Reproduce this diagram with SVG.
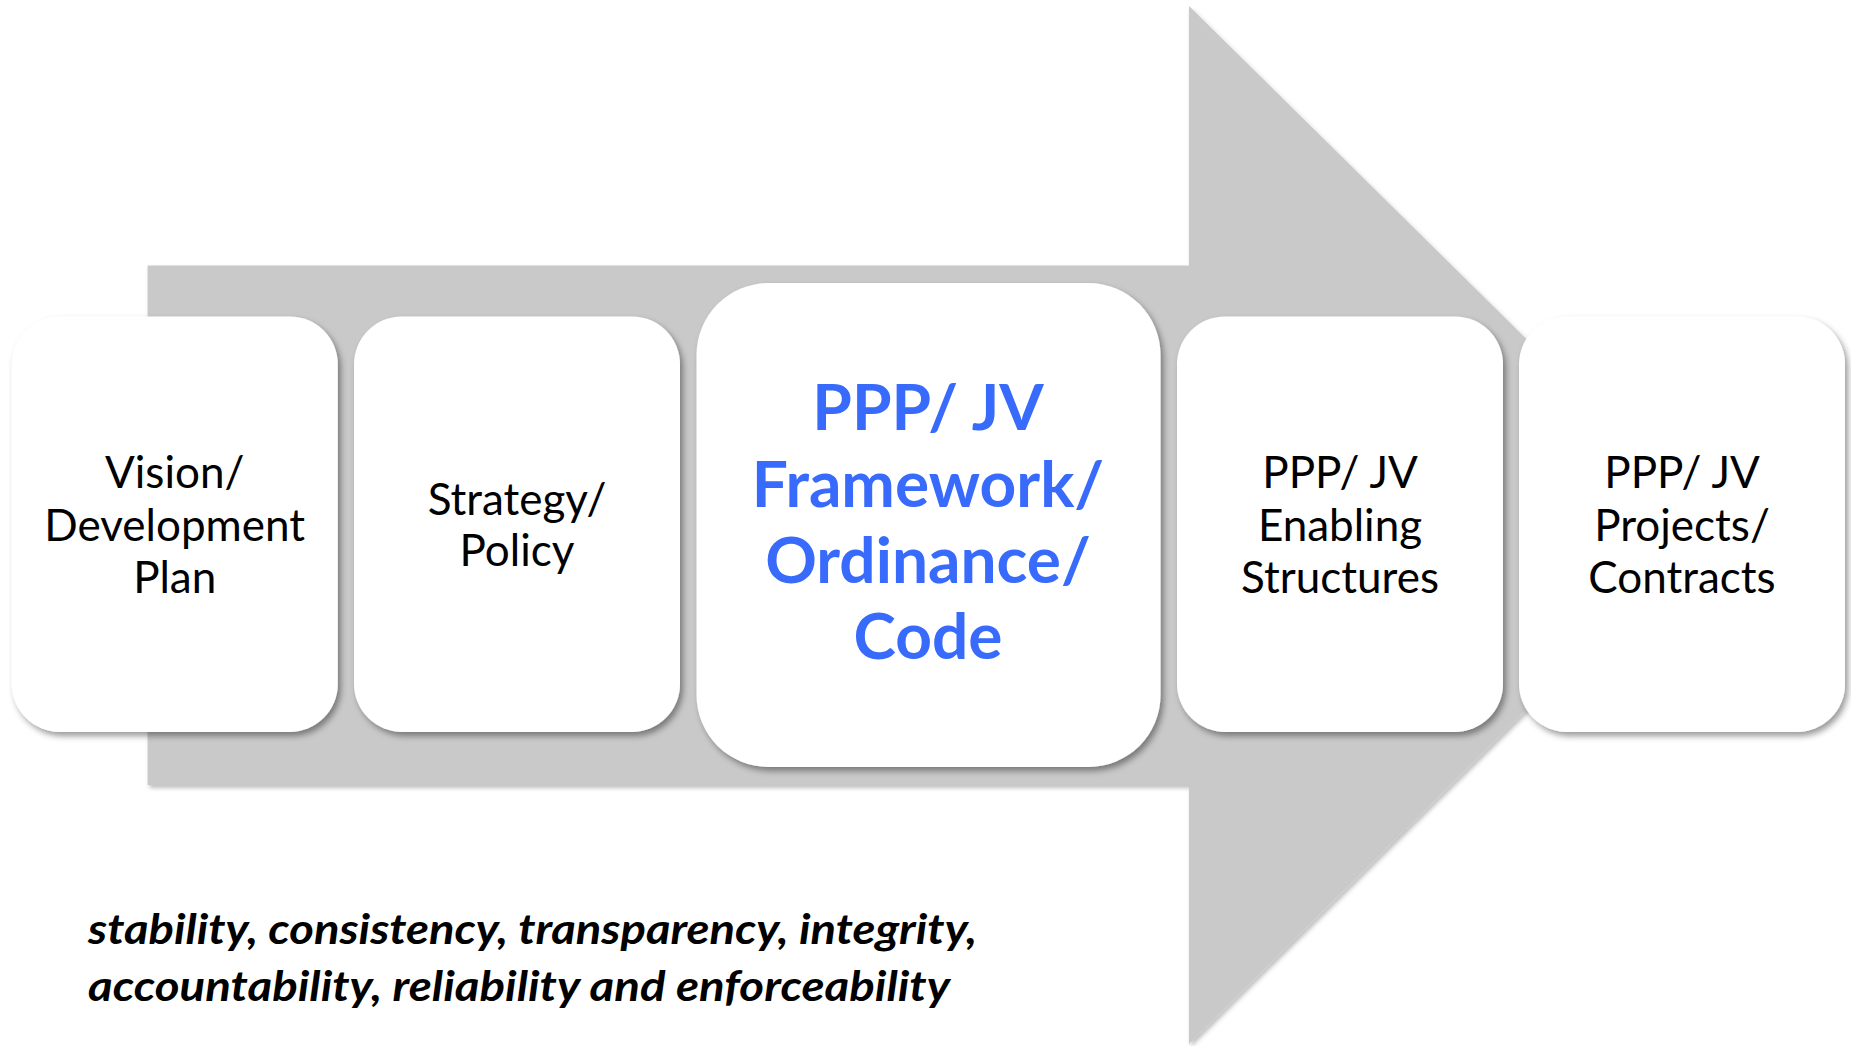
<svg xmlns="http://www.w3.org/2000/svg" width="1851" height="1046" viewBox="0 0 1851 1046">
<defs>
<filter id="sh" x="-10%" y="-10%" width="120%" height="120%">
<feDropShadow dx="3" dy="4" stdDeviation="3" flood-color="#000" flood-opacity="0.4"/>
</filter>
<filter id="ash" x="-5%" y="-5%" width="110%" height="110%">
<feDropShadow dx="2" dy="3" stdDeviation="2" flood-color="#000" flood-opacity="0.25"/>
</filter>
<style>
.box{fill:#fff;filter:url(#sh);}
.t{font-family:Lato,"Open Sans","Liberation Sans",sans-serif;font-size:44px;fill:#000;text-anchor:middle;}
.tb{font-family:Lato,"Open Sans","Liberation Sans",sans-serif;font-size:64px;font-weight:bold;fill:#386BFB;text-anchor:middle;}
.bi{font-family:Lato,"Open Sans","Liberation Sans",sans-serif;font-size:42px;font-weight:bold;font-style:italic;fill:#000;}
</style>
</defs>
<rect width="1851" height="1046" fill="#fff"/>
<g id="arrow">
<path d="M147.6,265.6 H1189 V6 L1714,524 L1189,1044 V785 H147.6 Z" fill="#C9C9C9" filter="url(#ash)"/>
</g>
<g id="node1">
<rect class="box" x="11.8" y="316.4" width="326" height="415.5" rx="48"/>
<text class="t" x="174.7" y="488">Vision/</text>
<text class="t" x="174.7" y="541">Development</text>
<text class="t" x="174.7" y="593">Plan</text>
</g>
<g id="node2">
<rect class="box" x="354" y="316.4" width="326" height="415.5" rx="48"/>
<text class="t" x="517" y="515">Strategy/</text>
<text class="t" x="517" y="566">Policy</text>
</g>
<g id="node3">
<rect class="box" x="696.5" y="283" width="464" height="484" rx="72"/>
<text class="tb" x="928" y="430">PPP/ JV</text>
<text class="tb" x="928" y="507">Framework/</text>
<text class="tb" x="928" y="583">Ordinance/</text>
<text class="tb" x="928" y="659">Code</text>
</g>
<g id="node4">
<rect class="box" x="1177" y="316.4" width="326" height="415.5" rx="48"/>
<text class="t" x="1340" y="488">PPP/ JV</text>
<text class="t" x="1340" y="541">Enabling</text>
<text class="t" x="1340" y="593">Structures</text>
</g>
<g id="node5">
<rect class="box" x="1519" y="316.4" width="326" height="415.5" rx="48"/>
<text class="t" x="1682" y="488">PPP/ JV</text>
<text class="t" x="1682" y="541">Projects/</text>
<text class="t" x="1682" y="593">Contracts</text>
</g>
<g id="connectors"/>
<g id="caption">
<text class="bi" x="88" y="944" textLength="889" lengthAdjust="spacingAndGlyphs">stability, consistency, transparency, integrity,</text>
<text class="bi" x="88" y="1001" textLength="862" lengthAdjust="spacingAndGlyphs">accountability, reliability and enforceability</text>
</g>
</svg>
